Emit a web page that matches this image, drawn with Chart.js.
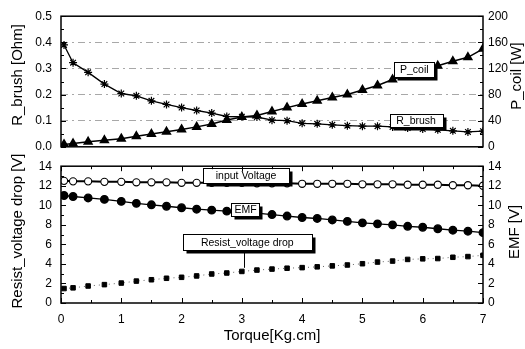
<!DOCTYPE html>
<html>
<head>
<meta charset="utf-8">
<script src="https://cdn.jsdelivr.net/npm/chart.js@4.4.0/dist/chart.umd.min.js"></script>
<style>
  html, body { margin: 0; padding: 0; background: #fff; }
  #wrap { position: relative; width: 525px; height: 349px; }
  #topChart { position: absolute; left: 0; top: 0; }
  #botChart { position: absolute; left: 0; top: 150px; }
</style>
</head>
<body>
<div id="wrap">
  <canvas id="topChart" width="525" height="163"></canvas>
  <canvas id="botChart" width="525" height="199"></canvas>
</div>
<script>
// ---- data ----
const torque = [0.05, 0.2, 0.45, 0.72, 1.0, 1.25, 1.5, 1.75, 2.0, 2.25, 2.5, 2.75, 3.0, 3.25, 3.5,
  3.75, 4.0, 4.25, 4.5, 4.75, 5.0, 5.25, 5.5, 5.75, 6.0, 6.25, 6.5, 6.75, 7.0];
const rBrush = [0.39, 0.322, 0.285, 0.24, 0.204, 0.195, 0.176, 0.162, 0.15, 0.139, 0.129, 0.116, 0.115, 0.114, 0.102,
  0.1, 0.09, 0.088, 0.084, 0.081, 0.079, 0.079, 0.076, 0.072, 0.068, 0.065, 0.061, 0.057, 0.06];
const pCoil = [3.7, 5, 7.6, 10, 12.5, 16, 19.5, 23, 26.5, 30.5, 35, 41, 45.5, 48, 54,
  60, 65.5, 70.5, 75.5, 80, 87, 94, 103, 110, 117, 124, 131, 137, 150];
const inputVoltage = [12.5, 12.45, 12.45, 12.4, 12.4, 12.35, 12.35, 12.35, 12.3, 12.3, 12.3, 12.3, 12.3, 12.25, 12.25,
  12.25, 12.2, 12.2, 12.2, 12.2, 12.15, 12.15, 12.15, 12.1, 12.1, 12.1, 12.05, 12.05, 12.0];
const emf = [11.0, 10.9, 10.75, 10.6, 10.4, 10.2, 10.05, 9.9, 9.75, 9.6, 9.5, 9.4, 9.3, 9.2, 9.05,
  8.9, 8.75, 8.65, 8.5, 8.35, 8.2, 8.1, 8.0, 7.85, 7.75, 7.6, 7.45, 7.35, 7.2];
const resistDrop = [1.48, 1.55, 1.74, 1.88, 2.04, 2.24, 2.38, 2.53, 2.63, 2.77, 2.97, 3.07, 3.23, 3.37, 3.47,
  3.56, 3.62, 3.7, 3.8, 3.89, 4.02, 4.19, 4.29, 4.46, 4.52, 4.55, 4.68, 4.75, 4.88];

const xTickLabels = ['0', '1', '2', '3', '4', '5', '6', '7'];

const FONT = "'Liberation Sans', Arial, sans-serif";
Chart.defaults.font.family = FONT;
Chart.defaults.color = '#000';

const pts = (ys) => torque.map((t, i) => ({ x: t, y: ys[i] }));

// frame + inward tick marks
function makeFrame(withXTicks) {
  return {
    id: 'frame',
    afterDraw(chart) {
      const { ctx, chartArea: a } = chart;
      ctx.save();
      ctx.strokeStyle = '#000';
      ctx.lineWidth = 1.5;
      ctx.strokeRect(a.left, a.top, a.right - a.left, a.bottom - a.top);
      ctx.lineWidth = 1;
      ctx.beginPath();
      ['yL', 'yR'].forEach(id => {
        const s = chart.scales[id];
        const vals = s.ticks.map(t => t.value);
        const left = id === 'yL';
        vals.forEach((v, i) => {
          const y = Math.round(s.getPixelForValue(v)) + 0.5;
          const x0 = left ? a.left : a.right;
          ctx.moveTo(x0, y); ctx.lineTo(left ? x0 + 5 : x0 - 5, y);
          if (i < vals.length - 1) {
            const ym = Math.round(s.getPixelForValue((v + vals[i + 1]) / 2)) + 0.5;
            ctx.moveTo(x0, ym); ctx.lineTo(left ? x0 + 3 : x0 - 3, ym);
          }
        });
      });
      if (withXTicks) {
        const s = chart.scales.x;
        for (let i = 0; i <= 14; i++) {
          const x = Math.round(s.getPixelForValue(i / 2)) + 0.5;
          const len = i % 2 === 0 ? 5 : 3;
          ctx.moveTo(x, a.bottom); ctx.lineTo(x, a.bottom - len);
          ctx.moveTo(x, a.top); ctx.lineTo(x, a.top + len);
        }
      }
      ctx.stroke();
      ctx.restore();
    }
  };
}

// boxed series labels with a drop shadow
function makeBoxes(boxes) {
  return {
    id: 'boxes',
    afterDatasetsDraw(chart) {
      const { ctx } = chart;
      const xs = chart.scales.x, ys = chart.scales.yL;
      ctx.save();
      ctx.font = '10.5px ' + FONT;
      ctx.textAlign = 'center';
      ctx.textBaseline = 'middle';
      boxes.forEach(b => {
        const cx = xs.getPixelForValue(b.x), cy = ys.getPixelForValue(b.y);
        const l = Math.round(cx - b.w / 2) + 0.5, t = Math.round(cy - b.h / 2) + 0.5;
        if (b.arrowTo !== undefined) {
          ctx.strokeStyle = '#000'; ctx.lineWidth = 1;
          const ax = Math.round(xs.getPixelForValue(b.arrowX)) + 0.5;
          ctx.beginPath();
          ctx.moveTo(ax, t + b.h);
          ctx.lineTo(ax, ys.getPixelForValue(b.arrowTo));
          ctx.stroke();
        }
        ctx.fillStyle = '#000';
        ctx.fillRect(l + 3, t + 3, b.w, b.h);
        ctx.fillStyle = '#fff';
        ctx.fillRect(l, t, b.w, b.h);
        ctx.strokeStyle = '#000'; ctx.lineWidth = 1;
        ctx.strokeRect(l, t, b.w, b.h);
        ctx.fillStyle = '#000';
        ctx.fillText(b.text, cx, cy + 0.5);
      });
      ctx.restore();
    }
  };
}

// rotated y titles (both sides read bottom-to-top)
function makeTitles(titles) {
  return {
    id: 'ytitles',
    afterDraw(chart) {
      const { ctx } = chart;
      ctx.save();
      ctx.font = '15px ' + FONT;
      ctx.fillStyle = '#000';
      ctx.textAlign = 'center';
      ctx.textBaseline = 'middle';
      titles.forEach(t => {
        ctx.save();
        ctx.translate(t.x, t.y);
        ctx.rotate(-Math.PI / 2);
        ctx.fillText(t.text, 0, 0);
        ctx.restore();
      });
      ctx.restore();
    }
  };
}

const baseOpts = {
  responsive: false,
  animation: false,
  plugins: { legend: { display: false }, tooltip: { enabled: false } }
};

// ---- top panel: R_brush / P_coil ----
new Chart(document.getElementById('topChart'), {
  type: 'line',
  data: {
    datasets: [
      { label: 'R_brush', data: pts(rBrush), yAxisID: 'yL', borderColor: '#000', borderWidth: 1.3,
        pointStyle: 'star', pointRadius: 4, pointBorderWidth: 1.2, pointBorderColor: '#000', tension: 0 },
      { label: 'P_coil', data: pts(pCoil), yAxisID: 'yR', borderColor: '#000', borderWidth: 1.5,
        pointStyle: 'triangle', pointRadius: 4.5, pointBackgroundColor: '#000', pointBorderColor: '#000', tension: 0 }
    ]
  },
  options: {
    ...baseOpts,
    layout: { padding: { top: 15.5, bottom: 7.5, left: 0, right: 0 } },
    scales: {
      x: { type: 'linear', min: 0, max: 7, display: false },
      yL: {
        position: 'left', min: 0, max: 0.5,
        ticks: { stepSize: 0.1, padding: 9, font: { size: 12 }, callback: v => v.toFixed(1) },
        grid: { drawTicks: false, lineWidth: 1,
          color: c => (c.tick && c.tick.value > 0.01 && c.tick.value < 0.49) ? '#a8a8a8' : 'rgba(0,0,0,0)' },
        border: { display: false, dash: [7, 4, 2, 4] },
        afterFit: s => { s.width = 61; }
      },
      yR: {
        position: 'right', min: 0, max: 200,
        ticks: { stepSize: 40, padding: 5, font: { size: 12 } },
        grid: { drawOnChartArea: false, drawTicks: false },
        border: { display: false },
        afterFit: s => { s.width = 42; }
      }
    }
  },
  plugins: [
    makeFrame(false),
    makeBoxes([
      { text: 'P_coil', x: 5.86, y: 0.295, w: 40, h: 15 },
      { text: 'R_brush', x: 5.89, y: 0.1, w: 53, h: 13 }
    ]),
    makeTitles([
      { text: 'R_brush [Ohm]', x: 18, y: 75 },
      { text: 'P_coil [W]', x: 517, y: 76 }
    ])
  ]
});

// ---- bottom panel: voltages ----
new Chart(document.getElementById('botChart'), {
  type: 'line',
  data: {
    datasets: [
      { label: 'input Voltage', data: pts(inputVoltage), yAxisID: 'yL', borderColor: '#000', borderWidth: 2,
        pointStyle: 'circle', pointRadius: 3.6, pointBorderWidth: 1.1, pointBackgroundColor: '#fff', pointBorderColor: '#000', tension: 0 },
      { label: 'EMF', data: pts(emf), yAxisID: 'yR', borderColor: '#000', borderWidth: 1.3,
        pointStyle: 'circle', pointRadius: 3.8, pointBackgroundColor: '#000', pointBorderColor: '#000', tension: 0 },
      { label: 'Resist_voltage drop', data: pts(resistDrop), yAxisID: 'yL', borderColor: '#666', borderWidth: 1,
        borderDash: [1, 4], pointStyle: 'rect', pointRadius: 3.2, pointBackgroundColor: '#000', pointBorderColor: '#000', tension: 0 }
    ]
  },
  options: {
    ...baseOpts,
    layout: { padding: { top: 12, bottom: 0, left: 0, right: 0 } },
    scales: {
      x: {
        type: 'linear', min: 0, max: 7,
        ticks: { stepSize: 1, padding: 9, font: { size: 12 }, callback: v => xTickLabels[v] },
        grid: { display: false, drawTicks: false },
        border: { display: false },
        title: { display: true, text: 'Torque[Kg.cm]', font: { size: 15 }, padding: { top: 0, bottom: 4 } },
        afterFit: s => { s.height = 46; }
      },
      yL: {
        position: 'left', min: 0, max: 14,
        ticks: { stepSize: 2, padding: 9, font: { size: 12 } },
        grid: { display: false, drawTicks: false },
        border: { display: false },
        afterFit: s => { s.width = 61; }
      },
      yR: {
        position: 'right', min: 0, max: 14,
        ticks: { stepSize: 2, padding: 5, font: { size: 12 } },
        grid: { display: false, drawTicks: false },
        border: { display: false },
        afterFit: s => { s.width = 42; }
      }
    }
  },
  plugins: [
    makeFrame(true),
    makeBoxes([
      { text: 'input Voltage', x: 3.07, y: 13.0, w: 86, h: 15 },
      { text: 'EMF', x: 3.06, y: 9.6, w: 28, h: 13 },
      { text: 'Resist_voltage drop', x: 3.09, y: 6.2, w: 129, h: 16, arrowX: 3.04, arrowTo: 3.6 }
    ]),
    makeTitles([
      { text: 'Resist_voltage drop [V]', x: 18, y: 81 },
      { text: 'EMF [V]', x: 515, y: 82 }
    ])
  ]
});
</script>
</body>
</html>
